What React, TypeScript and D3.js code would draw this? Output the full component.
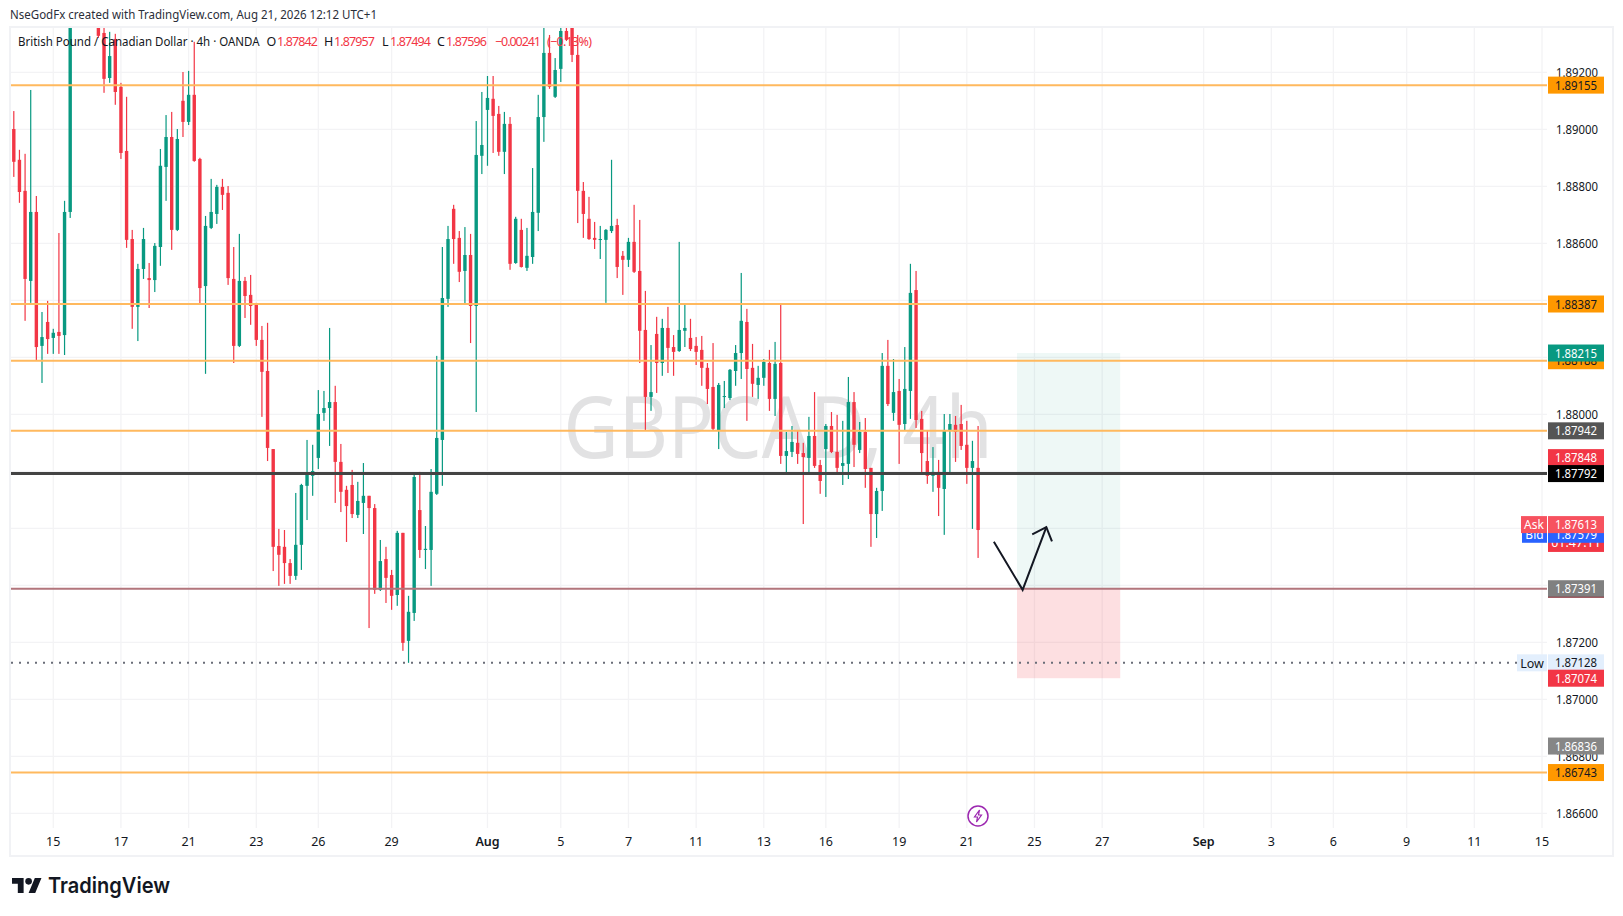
import React from "react";
import * as d3 from "d3";

// Prices are in 1e-5 units (pipettes).
const opens = [
189001,188893,188784,188468,188710,188240,188324,188268,188289,188278,
188710,189454,189530,189470,189540,189401,189338,189180,189317,189149,
188924,188615,188377,188510,188478,188471,188587,188868,188973,188647,
189100,189026,189121,188896,188450,188654,188703,188798,188777,188475,
188240,188468,188419,188384,188261,188152,187878,187538,187535,187478,
187433,187542,187749,187784,187847,188005,188022,188043,187833,187735,
187752,187647,187689,187714,187671,187384,187492,187436,187366,187584,
187205,187303,187664,187524,187524,187721,187910,188405,188721,188619,
188503,188559,188380,188907,189068,189107,189054,188921,189019,188531,
188647,188514,188552,188707,189043,189268,189114,189212,189345,189359,
189261,188784,188686,188619,188612,188612,188643,188664,188556,188542,
188605,188503,188296,188061,188282,188180,188303,188236,188222,188293,
188268,188240,188226,188163,188096,187945,188061,188057,188152,188215,
188324,188163,188103,188128,188180,188054,188180,187854,187868,187900,
187864,187847,187924,187822,187878,187959,187868,187819,187826,188043,
187875,187938,187812,187650,187731,188170,188005,188082,187966,188082,
188436,187984,187836,187784,187798,187738,187945,187963,187966,187893,
187812,187812];
const closes = [
188886,188780,188475,188710,188236,188271,188264,188286,188275,188710,
189454,189530,189470,189540,189500,189328,189177,189257,189131,188917,
188612,188377,188510,188615,188471,188591,188872,188973,188647,188966,
189026,189121,188889,188443,188661,188710,188798,188770,188478,188240,
188468,188415,188380,188261,188149,187882,187535,187507,187478,187433,
187542,187752,187794,187801,188001,188022,188043,187833,187728,187678,
187650,187696,187714,187671,187384,187485,187426,187363,187584,187198,
187307,187780,187524,187528,187728,187917,188408,188615,188615,188500,
188559,188380,188910,188945,189110,189047,188921,189019,188528,188686,
188517,188556,188710,189043,189268,189149,189208,189345,189314,189261,
188784,188703,188615,188612,188615,188647,188661,188517,188542,188605,
188500,188293,188061,188078,188180,188303,188233,188219,188296,188303,
188229,188219,188163,188089,187949,188103,188064,188156,188215,188328,
188159,188107,188128,188184,188054,188177,187854,187871,187903,187861,
187850,187924,187819,187766,187959,187868,187812,187829,188043,187893,
187938,187808,187650,187731,188170,188036,188078,187963,188089,188426,
187980,187864,187784,187798,187742,187945,187966,187938,187889,187812,
187836,187594];
const highs = [
189064,188928,188914,189138,188766,188359,188398,188300,188636,188749,
189524,189560,189600,189580,189610,189440,189384,189342,189335,189163,
189114,188647,188528,188654,188531,188601,188931,189050,189061,189001,
189201,189205,189307,188900,188696,188826,188805,188826,188801,188587,
188633,188482,188489,188391,188310,188321,187878,187598,187594,187492,
187724,187756,187910,187893,188085,188082,188303,188100,187896,187749,
187805,187763,187829,187714,187685,187559,187535,187454,187591,187584,
187363,187794,187798,187608,187808,188205,188587,188661,188735,188643,
188657,188633,189029,189131,189187,189187,189082,189061,189043,188693,
188686,188654,188864,189121,189380,189331,189250,189400,189390,189400,
189331,188815,188763,188675,188661,188650,188893,188686,188573,188619,
188735,188682,188433,188243,188342,188335,188377,188278,188605,188384,
188335,188271,188275,188180,188250,188110,188117,188159,188243,188496,
188370,188247,188170,188194,188226,188254,188384,187938,187959,187942,
187900,187991,188078,187840,187966,188008,187998,187977,188131,188078,
187973,187987,187812,187742,188215,188261,188194,188124,188236,188528,
188503,188012,187945,187885,187840,188001,188001,187994,188033,187977,
187907,187959];
const lows = [
188833,188742,188328,188391,188187,188110,188212,188212,188212,188208,
188689,189420,189440,189430,189480,189321,189128,189163,189086,188896,
188584,188300,188257,188475,188373,188429,188521,188749,188577,188643,
188973,189015,188886,188387,188142,188650,188668,188717,188454,188180,
188236,188338,188314,188240,187991,187836,187450,187398,187405,187405,
187419,187454,187629,187714,187808,187977,187889,187689,187657,187552,
187636,187636,187580,187250,187370,187380,187338,187314,187328,187170,
187128,187275,187496,187457,187398,187717,187749,188377,188528,188464,
188384,188250,188008,188843,188872,188917,188907,188843,188507,188528,
188515,188503,188528,188643,188956,189142,189110,189166,189310,189236,
188671,188619,188612,188580,188545,188391,188636,188478,188419,188517,
188496,188180,187942,188012,188075,188135,188145,188135,188219,188236,
188222,188173,188100,188036,187942,187878,188022,188050,188100,188124,
187977,188061,188054,188100,188012,187994,187826,187787,187850,187826,
187615,187787,187812,187721,187710,187864,187787,187752,187773,187815,
187864,187742,187535,187566,187661,188029,187977,187826,187942,187984,
187952,187787,187756,187728,187643,187577,187787,187833,187875,187756,
187598,187496];

const timeTickLabels = ["15","17","21","23","26","29","Aug","5","7","11","13","16","19","21","25","27","Sep","3","6","9","11","15"];
const timeTickBars = [7,19,31,43,54,67,84,97,109,121,133,144,157,169,181,193,211,223,234,247,259,271];
const priceGrid = [1.892,1.89,1.888,1.886,1.884,1.882,1.88,1.878,1.876,1.874,1.872,1.87,1.868,1.866];
const priceLabels = [1.892,1.89,1.888,1.886,1.88,1.872,1.87,1.868,1.866];

const orangeLevels = [1.89155,1.88387,1.88188,1.87942,1.86743];
const pivotLevel = 1.87792;
const entryLevel = 1.87388;
const lowLevel = 1.87128;

const tagPrices = [1.89155,1.88387,1.88188,1.88215,1.87942,1.87848,1.87792,1.87388,1.87128,1.87074,1.86836,1.86743];
const tagTexts = ["1.89155","1.88387","1.88188","1.88215","1.87942","1.87848","1.87792","1.87391","1.87128","1.87074","1.86836","1.86743"];
const tagKinds = ["orange","orange","orange","green","dark","red","black","grey","low","red","midgrey","orange"];

const lastPrice = 1.87596;
const bidPrice = 1.87579;
const askPrice = 1.87613;
const countdown = "01:47:11";

const boxBars = [177.9,196.2];
const boxTarget = 1.88215;
const boxStop = 1.87074;
const arrowBars = [173.8,178.9,183.1];
const arrowPrices = [1.87553,1.87384,1.87604];
const arrowHeadBars = [180.6,183.1,184.1];
const arrowHeadPrices = [1.87579,1.87604,1.87554];

const FONT = "'Noto Sans', sans-serif";
const UP = "#089981";
const DOWN = "#f23645";
const GRID = "#f3f3f5";
const kindFill: Record<string,string> = {orange:"#ff9800",green:"#089981",dark:"#555555",red:"#f23645",black:"#000000",grey:"#808080",low:"#e3effd",midgrey:"#868686"};
const kindText: Record<string,string> = {orange:"#131722",low:"#131722"};

const x = d3.scaleLinear().domain([0,271]).range([13.8,1542]);
const y = d3.scaleLinear().domain([1.892,1.866]).range([72.3,813.3]);
const px = (v:number)=>v/1e5;

const PANE = {l:11,r:1547,t:28,b:828};
const TAG = {x:1548,w:56,h:17};

function Tag({price,text,fill,color="#fff"}:{price:number;text:string;fill:string;color?:string}){
  const c=y(price);
  return <g>
    <rect x={TAG.x} y={c-TAG.h/2} width={TAG.w} height={TAG.h} fill={fill}/>
    <text x={TAG.x+TAG.w/2} y={c+4.5} textAnchor="middle" fontSize={12.5} fill={color} textLength={42} lengthAdjust="spacingAndGlyphs">{text}</text>
  </g>;
}

export default function App(){
  const pts=(bars:number[],prices:number[])=>bars.map((b,i)=>`${x(b)},${y(prices[i])}`).join(" ");
  return (
    <svg width={1623} height={916} style={{position:"fixed",left:0,top:0,background:"#fff"}} fontFamily={FONT}>
      <defs><clipPath id="pane"><rect x={PANE.l} y={PANE.t} width={PANE.r-PANE.l} height={PANE.b-PANE.t}/></clipPath></defs>
      <rect x={10} y={27} width={1603} height={829} fill="none" stroke="#f1f2f5" strokeWidth={2}/>
      <text x={10} y={19} fontSize={12.5} fill="#2a2e39" textLength={367} lengthAdjust="spacingAndGlyphs">NseGodFx created with TradingView.com, Aug 21, 2026 12:12 UTC+1</text>

      <g>
        {priceGrid.map(p=><line key={p} x1={PANE.l} x2={PANE.r} y1={y(p)} y2={y(p)} stroke={GRID} strokeWidth={1.3}/>)}
        {timeTickBars.map(b=><line key={b} x1={x(b)} x2={x(b)} y1={PANE.t} y2={PANE.b} stroke={GRID} strokeWidth={1.3}/>)}
      </g>

      <text x={778} y={458} textAnchor="middle" fontSize={86} fill="#e2e2e3" textLength={429} lengthAdjust="spacingAndGlyphs">GBPCAD, 4h</text>

      <g clipPath="url(#pane)">
        <rect x={x(boxBars[0])} width={x(boxBars[1])-x(boxBars[0])} y={y(boxTarget)} height={y(entryLevel)-y(boxTarget)} fill="#089981" fillOpacity={0.07}/>
        <rect x={x(boxBars[0])} width={x(boxBars[1])-x(boxBars[0])} y={y(entryLevel)} height={y(boxStop)-y(entryLevel)} fill="#f23645" fillOpacity={0.16}/>
        <g>
          {opens.map((o,i)=>{
            const c=closes[i];
            const col=c>=o?UP:DOWN;
            const cx=x(i);
            const t=y(px(Math.max(o,c))), b=y(px(Math.min(o,c)));
            return <g key={i}>
              <rect x={cx-0.6} width={1.2} y={y(px(highs[i]))} height={y(px(lows[i]))-y(px(highs[i]))} fill={col}/>
              <rect x={cx-1.7} width={3.4} y={t} height={Math.max(1,b-t)} fill={col}/>
            </g>;
          })}
        </g>
        {orangeLevels.map(p=><line key={p} x1={PANE.l} x2={PANE.r} y1={y(p)} y2={y(p)} stroke="#ffb95e" strokeWidth={2}/>)}
        <line x1={PANE.l} x2={PANE.r} y1={y(pivotLevel)} y2={y(pivotLevel)} stroke="#434343" strokeWidth={3}/>
        <line x1={PANE.l} x2={PANE.r} y1={y(entryLevel)} y2={y(entryLevel)} stroke="#b2757c" strokeWidth={2}/>
        <line x1={PANE.l} x2={1517} y1={y(lowLevel)} y2={y(lowLevel)} stroke="#6a6d78" strokeWidth={2} strokeDasharray="2 6"/>
        <polyline points={pts(arrowBars,arrowPrices)} fill="none" stroke="#131722" strokeWidth={2}/>
        <polyline points={pts(arrowHeadBars,arrowHeadPrices)} fill="none" stroke="#131722" strokeWidth={2}/>
      </g>

      <g fontSize={12.5}>
        <text x={18} y={46} fill="#131722" textLength={241.5} lengthAdjust="spacingAndGlyphs">British Pound / Canadian Dollar · 4h · OANDA</text>
        <text x={266.5} y={46} fill="#131722">O</text>
        <text x={277} y={46} fill={DOWN} textLength={41}>1.87842</text>
        <text x={324} y={46} fill="#131722">H</text>
        <text x={334} y={46} fill={DOWN} textLength={41}>1.87957</text>
        <text x={382} y={46} fill="#131722">L</text>
        <text x={390} y={46} fill={DOWN} textLength={41}>1.87494</text>
        <text x={437} y={46} fill="#131722">C</text>
        <text x={446} y={46} fill={DOWN} textLength={41}>1.87596</text>
        <text x={495} y={46} fill={DOWN} textLength={46}>−0.00241</text>
        <text x={547} y={46} fill={DOWN} textLength={45}>(−0.13%)</text>
      </g>

      {priceLabels.map(p=><text key={p} x={1577} y={y(p)+4.2} textAnchor="middle" fontSize={12.5} fill="#131722" textLength={42} lengthAdjust="spacingAndGlyphs">{p.toFixed(5)}</text>)}

      <g fontSize={12.5} fill="#131722">
        {timeTickBars.map((b,i)=>{
          const lab=timeTickLabels[i];
          const month=lab==="Aug"||lab==="Sep";
          return <text key={b} x={x(b)} y={846} textAnchor="middle" fontWeight={month?600:400}>{lab}</text>;
        })}
      </g>

      {tagPrices.map((p,i)=>{
        const k=tagKinds[i];
        return <Tag key={p} price={p} text={tagTexts[i]} fill={kindFill[k]} color={kindText[k]||"#fff"}/>;
      })}
      <rect x={TAG.x} y={y(entryLevel)+8} width={TAG.w} height={1} fill="#8a2a33"/>
      <rect x={1517} y={y(lowLevel)-8.5} width={30} height={17} fill="#e3effd"/>
      <text x={1532} y={y(lowLevel)+4.8} textAnchor="middle" fontSize={12.5} fill="#131722">Low</text>

      <rect x={TAG.x} y={y(lastPrice)-8.5} width={TAG.w} height={31} fill={DOWN}/>
      <text x={TAG.x+TAG.w/2} y={y(lastPrice)+18} textAnchor="middle" fontSize={12.5} fill="#fff">{countdown}</text>
      <Tag price={bidPrice} text={bidPrice.toFixed(5)} fill="#2962ff"/>
      <rect x={1522} y={y(bidPrice)-8.5} width={25} height={17} fill="#2962ff"/>
      <text x={1534.5} y={y(bidPrice)+4.5} textAnchor="middle" fontSize={12} fill="#fff">Bid</text>
      <Tag price={askPrice} text={askPrice.toFixed(5)} fill="#f7525f"/>
      <rect x={1521} y={y(askPrice)-8.5} width={26} height={17} fill="#f7525f"/>
      <text x={1534} y={y(askPrice)+4.5} textAnchor="middle" fontSize={12} fill="#fff">Ask</text>

      <g transform="translate(978,816)">
        <circle r={10} fill="#fff" stroke="#9c27b0" strokeWidth={1.5}/>
        <path d="M1.5,-6 L-3.5,1 L-0.5,1 L-1.5,6 L3.5,-1 L0.5,-1 Z" fill="none" stroke="#9c27b0" strokeWidth={1.2}/>
      </g>

      <g transform="translate(12,874.7) scale(0.83)" fill="#131722">
        <path d="M14 22H7V11H0V4h14v18zM28 22h-8l7.5-18h8L28 22z"/>
        <circle cx={20} cy={8} r={4}/>
      </g>
      <text x={48} y={892.5} fontFamily="Inter, sans-serif" fontWeight={600} fontSize={22} fill="#131722" textLength={122} lengthAdjust="spacingAndGlyphs">TradingView</text>
    </svg>
  );
}
